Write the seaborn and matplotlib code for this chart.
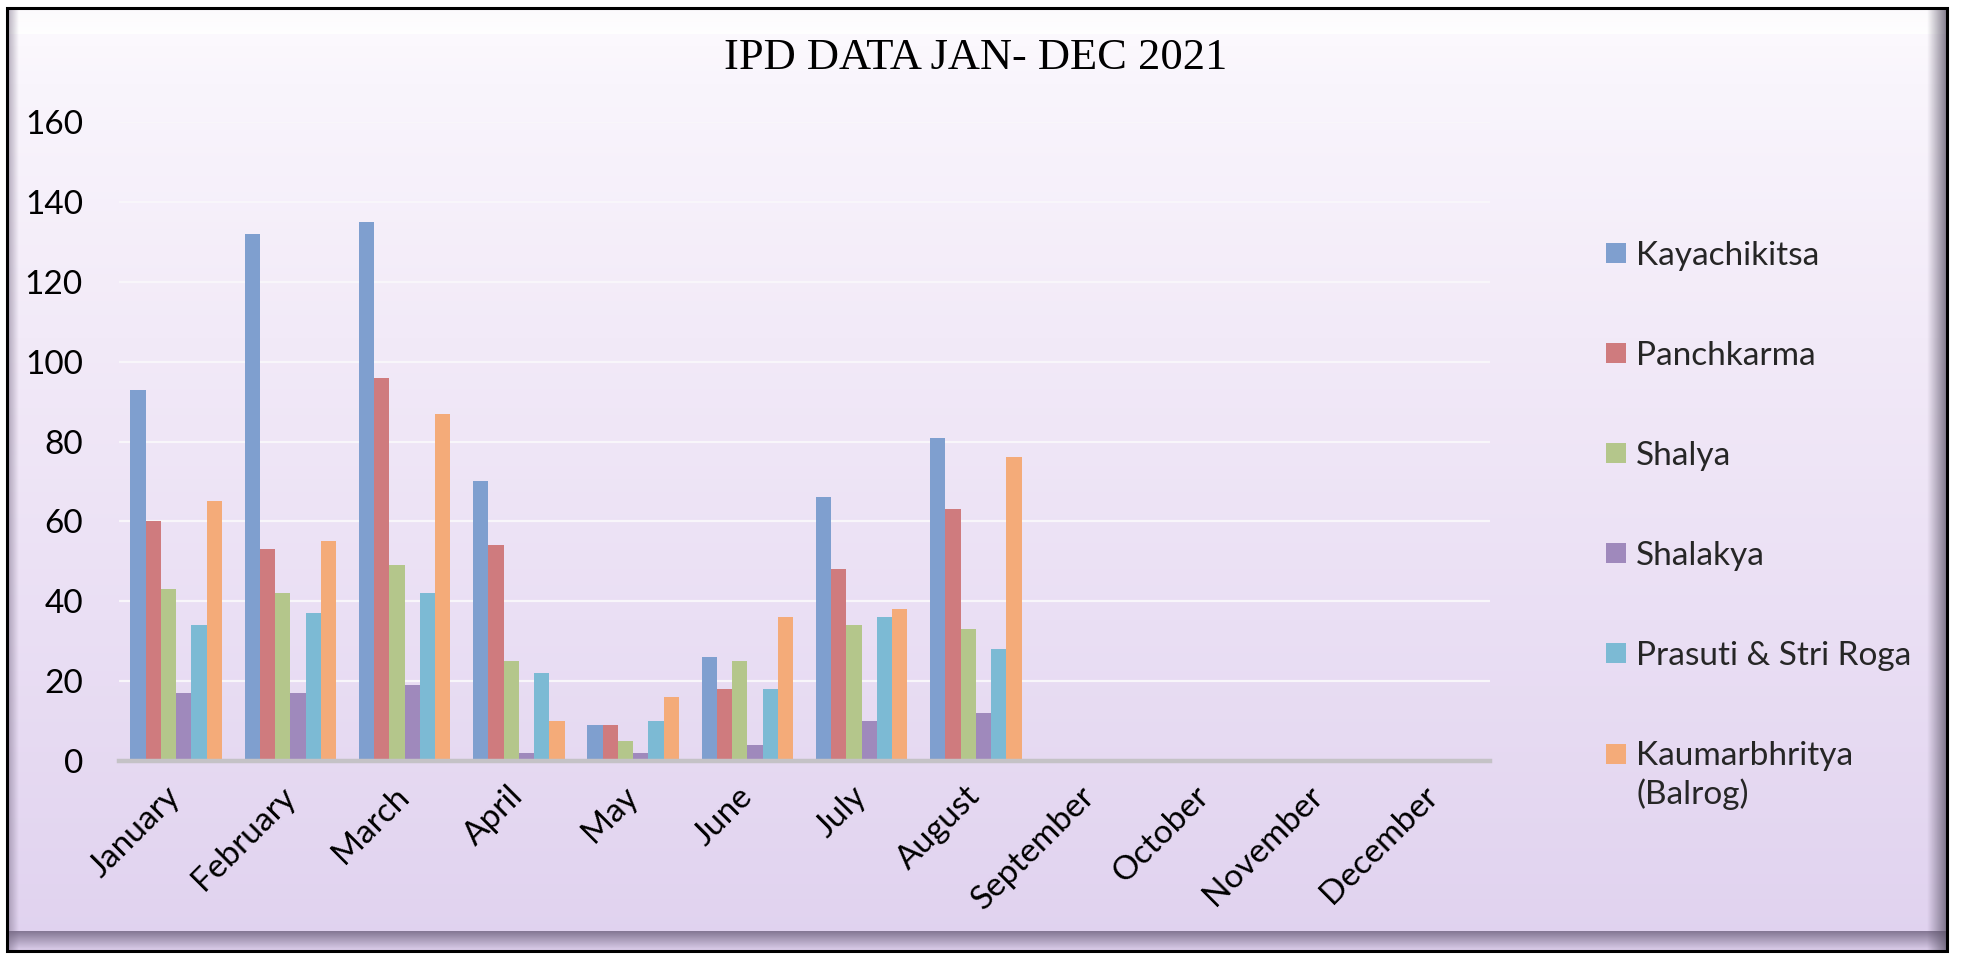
import numpy as np
import pandas as pd
import matplotlib
matplotlib.use("Agg")
import matplotlib.pyplot as plt
from matplotlib.patches import Rectangle
import seaborn as sns

# ---- data -------------------------------------------------------------
months = ["January", "February", "March", "April", "May", "June",
          "July", "August", "September", "October", "November", "December"]
departments = ["Kayachikitsa", "Panchkarma", "Shalya", "Shalakya",
               "Prasuti & Stri Roga", "Kaumarbhritya\n(Balrog)"]

# monthly IPD admissions, January to August (later months not yet reported)
kayachikitsa = [93, 132, 135, 70, 9, 26, 66, 81]
panchkarma = [60, 53, 96, 54, 9, 18, 48, 63]
shalya = [43, 42, 49, 25, 5, 25, 34, 33]
shalakya = [17, 17, 19, 2, 2, 4, 10, 12]
prasuti_stri_roga = [34, 37, 42, 22, 10, 18, 36, 28]
kaumarbhritya = [65, 55, 87, 10, 16, 36, 38, 76]

yticks = [0, 20, 40, 60, 80, 100, 120, 140, 160]
colors = ["#7f9fcf", "#cf7b7e", "#b4c68b", "#9f89bc", "#7cbad4", "#f4ab79"]

series = [kayachikitsa, panchkarma, shalya, shalakya, prasuti_stri_roga, kaumarbhritya]
rows = []
for dept, vals in zip(departments, series):
    for m, v in zip(months, vals):
        rows.append({"Month": m, "Department": dept, "Patients": v})
df = pd.DataFrame(rows)

# ---- figure -----------------------------------------------------------
W, H = 1963, 955
sns.set_theme(style="white")
plt.rcParams["font.family"] = ["Lato", "DejaVu Sans"]

fig = plt.figure(figsize=(W / 100, H / 100), dpi=100)
fig.patch.set_facecolor("white")

# background panel: lavender gradient with bevelled frame
bg = fig.add_axes([0, 0, 1, 1], zorder=-10)
bg.set_xlim(0, W)
bg.set_ylim(H, 0)
bg.axis("off")

L, R, T, B = 7, 1947, 8, 951
stops_y = np.array([0.0, 0.08, 0.35, 0.65, 1.0])
stops_c = np.array([[253, 251, 254], [249, 245, 252], [242, 234, 248],
                    [234, 223, 244], [224, 210, 239]]) / 255.0
yy = np.linspace(0, 1, 400)
grad = np.stack([np.interp(yy, stops_y, stops_c[:, k]) for k in range(3)], axis=-1)
bg.imshow(grad[:, None, :], extent=(L, R, B, T), aspect="auto", interpolation="bilinear")


def shade(extent, direction, rgb, a0, a1, n=64):
    ramp = np.linspace(a0, a1, n)
    img = np.zeros((n, 1, 4)) if direction == "v" else np.zeros((1, n, 4))
    img[..., :3] = rgb
    if direction == "v":
        img[:, 0, 3] = ramp
    else:
        img[0, :, 3] = ramp
    bg.imshow(img, extent=extent, aspect="auto", interpolation="bilinear")


shade((L, R, T + 26, T), "v", (1, 1, 1), 0.0, 0.9)            # top highlight
shade((L, R, B, B - 20), "v", (0.36, 0.31, 0.42), 0.7, 0.0)    # bottom bevel
shade((R - 20, R, B, T), "h", (0.35, 0.32, 0.40), 0.0, 0.75)   # right bevel
shade((L, L + 12, B, T), "h", (0.45, 0.40, 0.50), 0.55, 0.0)   # left bevel
bg.add_patch(Rectangle((L, T), R - L, B - T, fill=False, ec="black", lw=2.2))
bg.set_xlim(0, W)
bg.set_ylim(H, 0)

# main plot area
x0, x1, ytop, ybot = 119, 1490, 122, 761
ax = fig.add_axes([x0 / W, 1 - ybot / H, (x1 - x0) / W, (ybot - ytop) / H])
ax.patch.set_alpha(0)

sns.barplot(data=df, x="Month", y="Patients", hue="Department",
            order=months, hue_order=departments, palette=colors,
            width=0.8, saturation=1, linewidth=0, errorbar=None, ax=ax)

ax.set_ylim(0, 160)
ax.set_xlim(-0.5, len(months) - 0.5)
ax.set_yticks(yticks)
ax.set_yticklabels([str(v) for v in yticks])
ax.set_xlabel("")
ax.set_ylabel("")
ax.grid(axis="y", color="#f8f6fa", lw=1.6, zorder=0)
ax.set_axisbelow(True)
for s in ["top", "right", "left"]:
    ax.spines[s].set_visible(False)
ax.spines["bottom"].set_color("#c4c2c6")
ax.spines["bottom"].set_linewidth(3.2)
ax.tick_params(axis="y", length=0, pad=26, labelsize=24, labelcolor="black")
ax.tick_params(axis="x", length=0, pad=22, labelsize=24, labelcolor="black")
for lab in ax.get_xticklabels():
    lab.set_rotation(45)
    lab.set_ha("right")
    lab.set_va("center")
    lab.set_rotation_mode("anchor")

# legend on the right
handles, labels = ax.get_legend_handles_labels()
if ax.get_legend() is not None:
    ax.get_legend().remove()
leg = fig.legend(handles, labels, loc="upper left",
                 bbox_to_anchor=(1606 / W, 1 - 241 / H),
                 frameon=False, fontsize=24, borderpad=0, borderaxespad=0,
                 handlelength=0.6, handleheight=0.55, handletextpad=0.3,
                 labelspacing=2.1)
for t in leg.get_texts():
    t.set_linespacing(1.3)
# keep the swatch of the two-line entry level with its first line
last = leg.legend_handles[-1]
last.set_y(last.get_y() + 0.5 * 1.3 * 24)

fig.text(976 / W, 1 - 58 / H, "IPD DATA JAN- DEC 2021", ha="center", va="center",
         fontsize=32, family=["Liberation Serif", "DejaVu Serif"], color="black")

fig.savefig("out.png", dpi=100)
